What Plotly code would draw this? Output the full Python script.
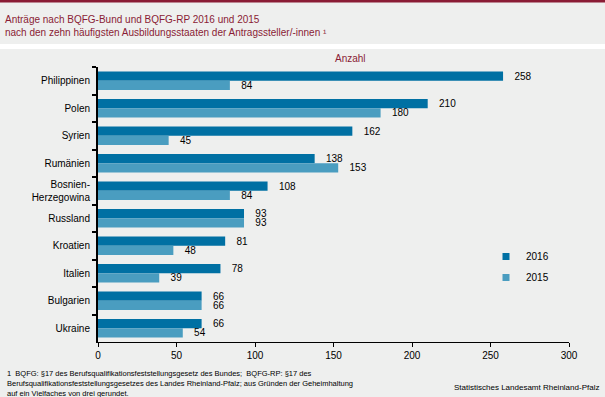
import plotly.graph_objects as go

categories = ["Philippinen", "Polen", "Syrien", "Rumänien", "Bosnien-<br>Herzegowina",
              "Russland", "Kroatien", "Italien", "Bulgarien", "Ukraine"]
values_2016 = [258, 210, 162, 138, 108, 93, 81, 78, 66, 66]
values_2015 = [84, 180, 45, 153, 84, 93, 48, 39, 66, 54]
x_ticks = [0, 50, 100, 150, 200, 250, 300]

W, H = 605, 397
L, R, T, B = 98, 569, 67, 342
BG = "#EEEFEE"
MAROON = "#8A1C35"
C2016 = "#0070A3"
C2015 = "#4A9DC0"
FONT = "Liberation Sans, Arial, sans-serif"

def px_x(x):
    return (x - L) / (R - L)

def px_y(y):
    return (B - y) / (B - T)

fig = go.Figure()
fig.add_trace(go.Bar(
    y=categories, x=values_2016, orientation="h", name="2016",
    marker=dict(color=C2016, line=dict(width=0)),
    text=values_2016, texttemplate="   %{x}", textposition="outside",
    constraintext="none",
    textfont=dict(size=10, color="black", family=FONT),
    showlegend=False, cliponaxis=False, hoverinfo="skip",
))
fig.add_trace(go.Bar(
    y=categories, x=values_2015, orientation="h", name="2015",
    marker=dict(color=C2015, line=dict(width=0)),
    text=values_2015, texttemplate="   %{x}", textposition="outside",
    constraintext="none",
    textfont=dict(size=10, color="black", family=FONT),
    showlegend=False, cliponaxis=False, hoverinfo="skip",
))
# legend entries
for name, col in [("2016", C2016), ("2015", C2015)]:
    fig.add_trace(go.Scatter(
        x=[None], y=[None], mode="markers", name=name,
        marker=dict(symbol="square", size=7, color=col),
        legendgroup=name,
    ))

shapes = [
    dict(type="rect", xref="paper", yref="paper",
         x0=px_x(-2), x1=px_x(W + 2), y0=px_y(2.5), y1=px_y(-2),
         fillcolor=MAROON, line=dict(width=0), layer="above"),
    dict(type="rect", xref="paper", yref="paper",
         x0=px_x(-2), x1=px_x(W + 2), y0=px_y(49), y1=px_y(44),
         fillcolor="white", line=dict(width=0), layer="above"),
]

annotations = [
    dict(text="Anträge nach BQFG-Bund und BQFG-RP 2016 und 2015<br>nach den zehn häufigsten Ausbildungsstaaten der Antragssteller/-innen ¹",
         xref="paper", yref="paper", x=px_x(3), y=px_y(12), xanchor="left", yanchor="top",
         align="left", showarrow=False, font=dict(size=10, color=MAROON, family=FONT)),
    dict(text="Anzahl", xref="paper", yref="paper", x=px_x(350), y=px_y(58),
         xanchor="center", yanchor="middle", showarrow=False,
         font=dict(size=10, color=MAROON, family=FONT)),
    dict(text="1  BQFG: §17 des Berufsqualifikationsfeststellungsgesetz des Bundes;  BQFG-RP: §17 des<br>"
              "Berufsqualifikationsfeststellungsgesetzes des Landes Rheinland-Pfalz; aus Gründen der Geheimhaltung<br>"
              "auf ein Vielfaches von drei gerundet.",
         xref="paper", yref="paper", x=px_x(5), y=px_y(367), xanchor="left", yanchor="top",
         align="left", showarrow=False, font=dict(size=7.5, color="black", family=FONT)),
    dict(text="Statistisches Landesamt Rheinland-Pfalz", xref="paper", yref="paper",
         x=px_x(601), y=px_y(387), xanchor="right", yanchor="middle", showarrow=False,
         font=dict(size=8, color="black", family=FONT)),
]

fig.update_layout(
    width=W, height=H,
    margin=dict(l=L, r=W - R, t=T, b=H - B, pad=0),
    paper_bgcolor=BG, plot_bgcolor=BG,
    barmode="group", bargap=0.33, bargroupgap=0,
    font=dict(family=FONT, size=10, color="black"),
    showlegend=True,
    legend=dict(x=px_x(486), y=px_y(242), xanchor="left", yanchor="top",
                bgcolor="rgba(0,0,0,0)", font=dict(size=10, color="black"),
                tracegroupgap=2, itemwidth=30),
    shapes=shapes, annotations=annotations,
    xaxis=dict(range=[0, 300], tickvals=x_ticks, showgrid=False, zeroline=False,
               showline=True, linecolor="black", linewidth=1,
               ticks="outside", ticklen=4, tickcolor="black", tickwidth=1,
               tickfont=dict(size=10, color="black")),
    yaxis=dict(type="category", categoryorder="array", categoryarray=categories,
               range=[9.5, -0.5], showgrid=False, zeroline=False,
               showline=True, linecolor="black", linewidth=2,
               ticks="outside", tickson="boundaries", ticklen=4, tickcolor="black", tickwidth=2,
               ticklabelstandoff=4,
               tickfont=dict(size=10, color="black")),
)

fig.write_html("out.html", config={"displayModeBar": False},
               post_script="document.body.style.margin='0px';document.body.style.background='" + BG + "';")
